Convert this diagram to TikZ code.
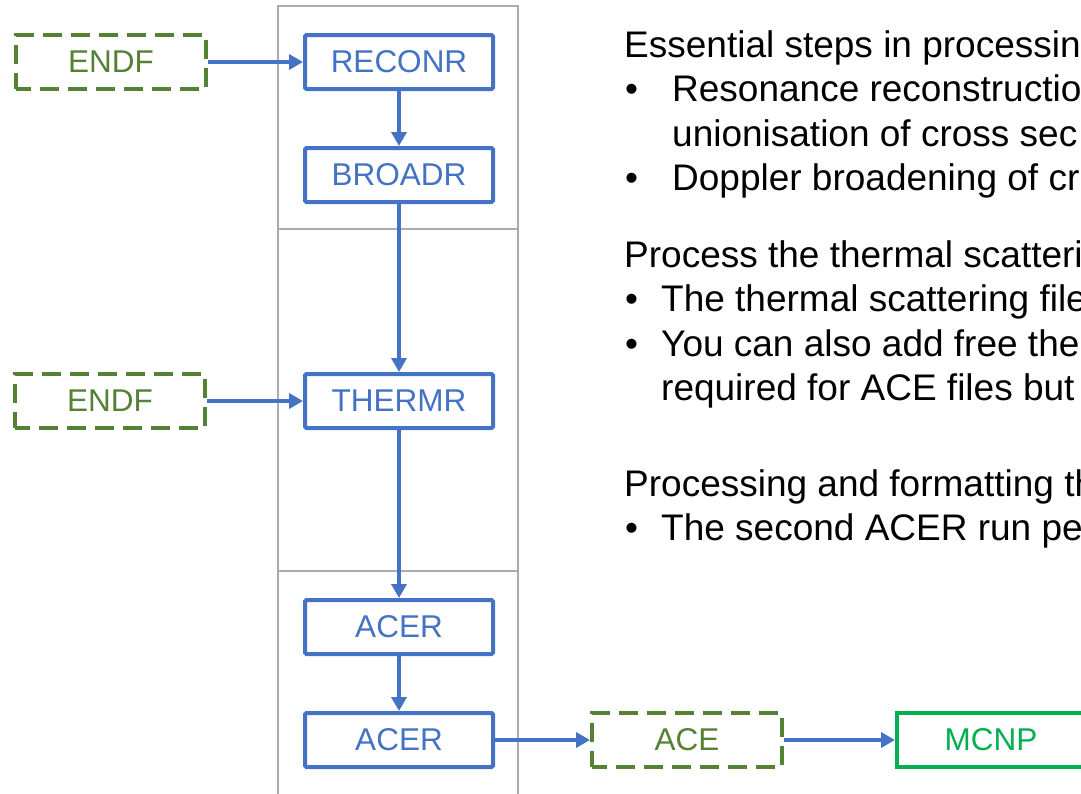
\documentclass[tikz,border=0pt]{standalone}
\usepackage{fontspec}
\setmainfont{Liberation Sans}
\usetikzlibrary{arrows.meta}
\definecolor{pblue}{RGB}{68,114,196}
\definecolor{pgreen}{RGB}{84,130,53}
\definecolor{mgreen}{RGB}{0,176,80}
\definecolor{fgray}{RGB}{175,171,171}
\begin{document}
\begin{tikzpicture}[x=1pt,y=-1pt,
  proc/.style={draw=pblue, line width=4pt, rounded corners=1.5pt, minimum width=188pt, minimum height=54pt, inner sep=0pt, text=pblue, font=\fontsize{31.5}{36}\selectfont},
  datafile/.style={draw=pgreen, line width=4pt, dash pattern=on 19pt off 9pt, dash phase=4pt, minimum width=190pt, minimum height=54pt, inner sep=0pt, text=pgreen, font=\fontsize{31.5}{36}\selectfont},
  code/.style={draw=mgreen, line width=4pt, minimum width=188pt, minimum height=54pt, inner sep=0pt, text=mgreen, font=\fontsize{31.5}{36}\selectfont},
  flow/.style={draw=pblue, line width=3.8pt, -{Triangle[length=14pt,width=15pt]}},
  frame/.style={draw=fgray, line width=2pt},
  txt/.style={anchor=base west, inner sep=0pt, font=\fontsize{37}{44}\selectfont}
]
\useasboundingbox (0,0) rectangle (1081,793);
\clip (0,0) rectangle (1081,793);
% frame
\draw[frame] (278,800) -- (278,6) -- (518,6) -- (518,800);
\draw[frame] (278,229) -- (518,229);
\draw[frame] (278,571) -- (518,571);
% nodes
\node[datafile] (endfa) at (111,62) {ENDF};
\node[proc] (reconr) at (399,62) {RECONR};
\node[proc] (broadr) at (399,175) {BROADR};
\node[datafile] (endfb) at (110,401) {ENDF};
\node[proc] (thermr) at (399,401) {THERMR};
\node[proc] (acera) at (399,627) {ACER};
\node[proc] (acerb) at (399,740) {ACER};
\node[datafile] (ace) at (687,740) {ACE};
\node[code] (mcnp) at (991,740) {MCNP};
% connectors
\draw[flow] (endfa) -- (reconr);
\draw[flow] (reconr) -- (broadr);
\draw[flow] (broadr) -- (thermr);
\draw[flow] (endfb) -- (thermr);
\draw[flow] (thermr) -- (acera);
\draw[flow] (acera) -- (acerb);
\draw[flow] (acerb) -- (ace);
\draw[flow] (ace) -- (mcnp);
% text
\node[txt] (t1) at (624,57) {Essential steps in processin};
\node[txt] (b1) at (625,101) {•};
\node[txt] (t2) at (672,101) {Resonance reconstructio};
\node[txt] (t3) at (672,146) {unionisation of cross sec};
\node[txt] (b2) at (625,190) {•};
\node[txt] (t4) at (672,190) {Doppler broadening of cr};
\node[txt] (t5) at (624,267) {Process the thermal scatteri};
\node[txt] (b3) at (625,311) {•};
\node[txt] (t6) at (661,311) {The thermal scattering file};
\node[txt] (b4) at (625,356) {•};
\node[txt] (t7) at (661,356) {You can also add free the};
\node[txt] (t8) at (661,400) {required for ACE files but};
\node[txt] (t9) at (624,496) {Processing and formatting th};
\node[txt] (b5) at (625,540) {•};
\node[txt] (t10) at (661,540) {The second ACER run pe};
\end{tikzpicture}
\end{document}
